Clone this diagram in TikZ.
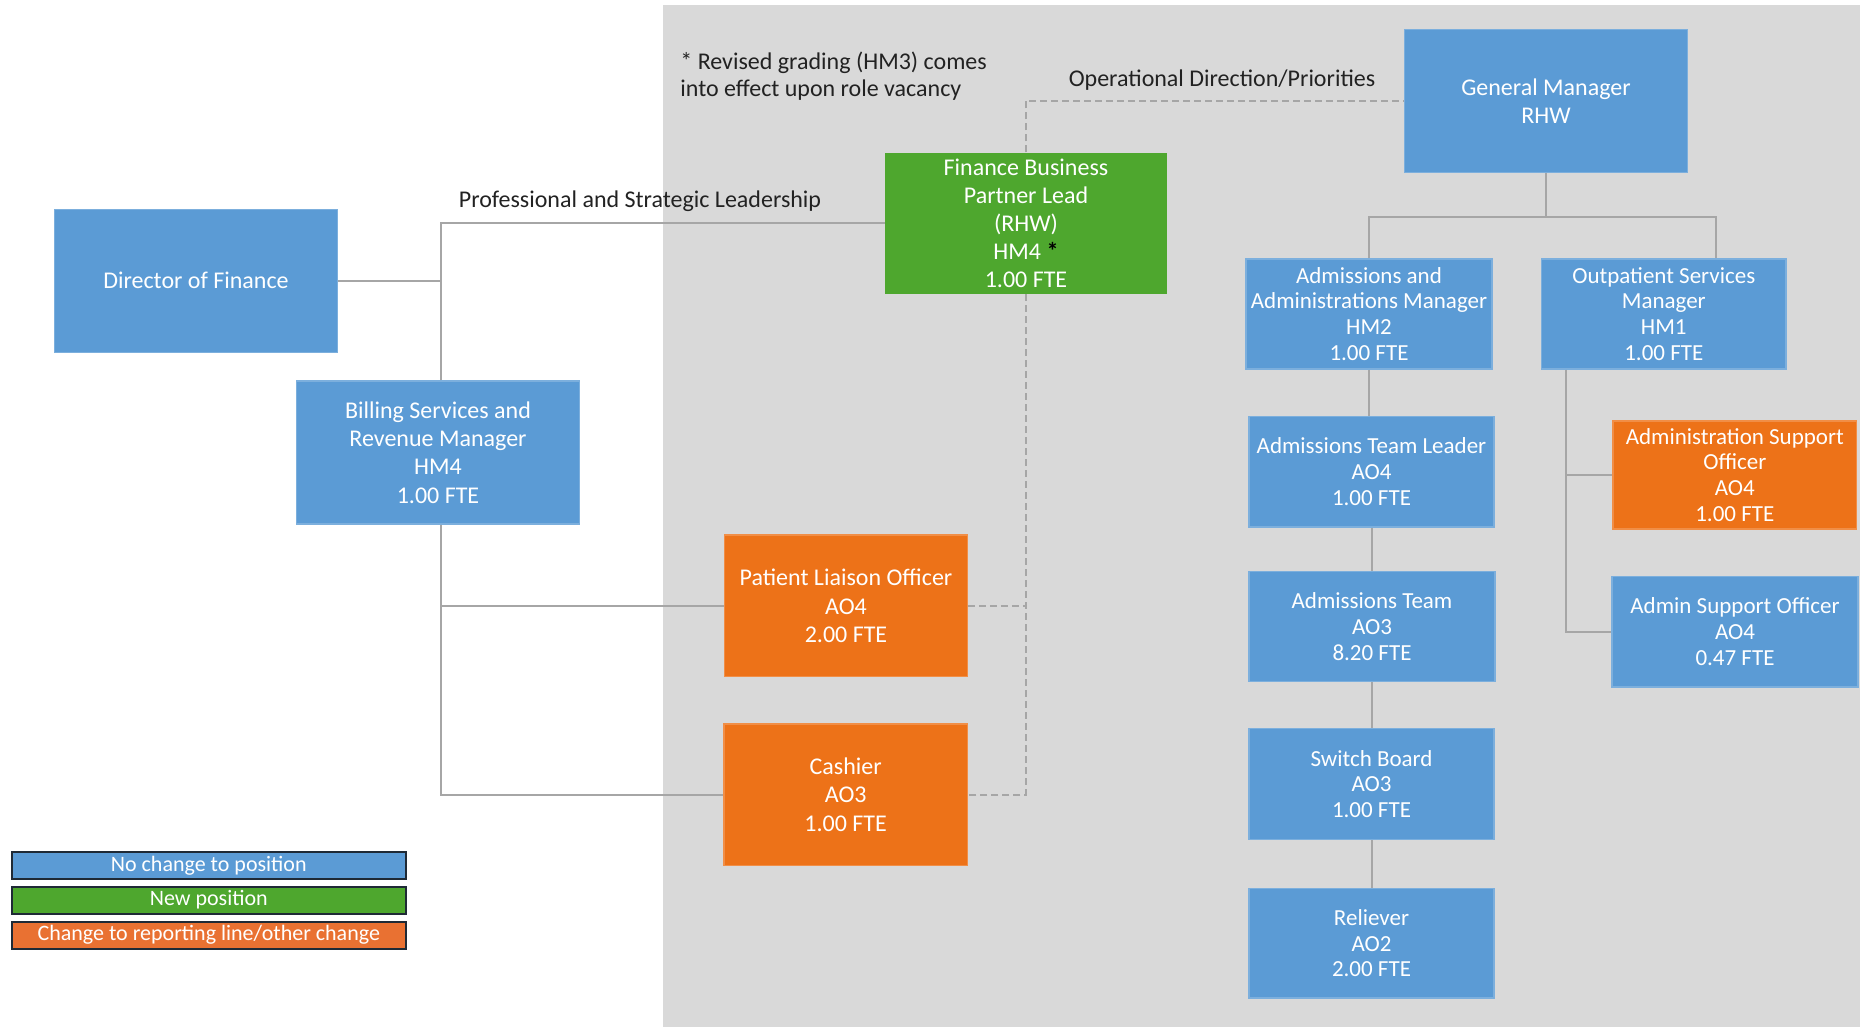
\documentclass[tikz,border=0pt]{standalone}
\usepackage{fontspec}
\setmainfont{Carlito}
\usetikzlibrary{calc}

\definecolor{posblue}{HTML}{5B9BD5}
\definecolor{posgreen}{HTML}{4EA72E}
\definecolor{posorange}{HTML}{ED7218}
\definecolor{legorange}{HTML}{E97132}
\definecolor{legendedge}{HTML}{1F2A36}
\definecolor{panelgray}{HTML}{D9D9D9}
\definecolor{linkgray}{HTML}{A6A6A6}
\definecolor{notetext}{HTML}{222222}

\begin{document}
\begin{tikzpicture}[x=0.5pt,y=-0.5pt,
  role/.style={align=center, text=white, inner sep=0pt, anchor=center,
    font=\fontsize{12}{14.1}\selectfont},
  tight/.style={font=\fontsize{11.5}{12.9}\selectfont},
  nochange/.style={role, fill=posblue, draw=posblue!80!white, line width=0.6pt},
  newpos/.style={role, fill=posgreen},
  changed/.style={role, fill=posorange, draw=posorange!80!white, line width=0.6pt},
  link/.style={draw=linkgray, line width=1pt},
  oplink/.style={link, dash pattern=on 3.5pt off 2pt},
  legend/.style={draw=legendedge, line width=1pt, text=white, inner sep=0pt,
    font=\fontsize{11}{13}\selectfont, minimum width=196.9pt, minimum height=13.5pt},
  caption/.style={text=notetext, inner sep=0pt, font=\fontsize{12}{13.5}\selectfont}
]
\useasboundingbox (0,0) rectangle (1860,1027);

% hospital side panel
\fill[panelgray] (663,5) rectangle (1860,1027);

% finance side
\node[nochange, minimum width=141.5pt, minimum height=71.5pt] (dof) at (196,280.7) {Director of Finance};
\node[nochange, minimum width=141.5pt, minimum height=71.5pt] (bill) at (438,452.5)
  {Billing Services and\\Revenue Manager\\HM4\\1.00 FTE};
\node[newpos, minimum width=140.75pt, minimum height=70.65pt] (fbpl) at (1026,223.4)
  {Finance Business\\Partner Lead\\(RHW)\\HM4 {\bfseries\color{black}*}\\1.00 FTE};
\node[changed, minimum width=121.3pt, minimum height=70.75pt] (plo) at (846,605.8)
  {Patient Liaison Officer\\AO4\\2.00 FTE};
\node[changed, minimum width=121.7pt, minimum height=70.7pt] (cash) at (845.7,794.7)
  {Cashier\\AO3\\1.00 FTE};

% hospital operations
\node[nochange, minimum width=141.5pt, minimum height=71.5pt] (gm) at (1546,100.8)
  {General Manager\\RHW};
\node[nochange, tight, minimum width=123pt, minimum height=55pt] (adm) at (1369,314)
  {Admissions and\\Administrations Manager\\HM2\\1.00 FTE};
\node[nochange, tight, minimum width=122.25pt, minimum height=55pt] (out) at (1663.8,314)
  {Outpatient Services\\Manager\\HM1\\1.00 FTE};
\node[nochange, tight, minimum width=122.5pt, minimum height=55.35pt] (atl) at (1371.5,471.7)
  {Admissions Team Leader\\AO4\\1.00 FTE};
\node[changed, tight, minimum width=121.75pt, minimum height=54pt] (aso) at (1734.8,475)
  {Administration Support\\Officer\\AO4\\1.00 FTE};
\node[nochange, tight, minimum width=123pt, minimum height=55pt] (at) at (1372,626.5)
  {Admissions Team\\AO3\\8.20 FTE};
\node[nochange, tight, minimum width=123pt, minimum height=55.2pt] (adso) at (1735,631.8)
  {Admin Support Officer\\AO4\\0.47 FTE};
\node[nochange, tight, minimum width=122.5pt, minimum height=55.5pt] (sb) at (1371.5,784)
  {Switch Board\\AO3\\1.00 FTE};
\node[nochange, tight, minimum width=122.5pt, minimum height=54.7pt] (rel) at (1371.5,943.3)
  {Reliever\\AO2\\2.00 FTE};

% captions
\node[caption, anchor=west, align=left] (note) at (680,76.5)
  {* Revised grading (HM3) comes\\into effect upon role vacancy};
\node[caption] (plabel) at (640,201.7) {Professional and Strategic Leadership};
\node[caption] (olabel) at (1222,80) {Operational Direction/Priorities};

% finance reporting lines
\coordinate (billtop) at ($(bill.north)+(3,0)$);
\coordinate (billbot) at ($(bill.south)+(3,0)$);
\draw[link] (dof.east) -- (dof.east -| billtop);
\draw[link] (billtop) -- (billtop |- fbpl.west) -- (fbpl.west);
\draw[link] (billbot) |- (plo.west);
\draw[link] (billbot) |- (cash.west);

% operational (dotted) lines
\draw[oplink] (fbpl.north) |- (gm.west);
\draw[oplink] (fbpl.south) |- (cash.east);
\draw[oplink] (plo.east) -- (plo.east -| fbpl.south);

% general manager tree
\coordinate (gmbus) at (1546,216.7);
\coordinate (outtop) at ($(out.north)+(52,0)$);
\draw[link] (gm.south) -- (gmbus);
\draw[link] (adm.north) |- (gmbus);
\draw[link] (gmbus) -| (outtop);

% admissions chain
\draw[link] (adm.south) -- (adm.south |- atl.north);
\draw[link] (atl.south) -- (atl.south |- at.north);
\draw[link] (at.south) -- (at.south |- sb.north);
\draw[link] (sb.south) -- (sb.south |- rel.north);

% outpatient branch
\coordinate (optrunk) at ($(out.south west)+(25,0)$);
\draw[link] (optrunk) |- (aso.west);
\draw[link] (optrunk) |- (adso.west);

% key
\node[legend, fill=posblue] (lg1) at (208.8,865.5) {No change to position};
\node[legend, fill=posgreen] (lg2) at (208.8,900) {New position};
\node[legend, fill=legorange] (lg3) at (208.8,935.2) {Change to reporting line/other change};
\end{tikzpicture}
\end{document}
